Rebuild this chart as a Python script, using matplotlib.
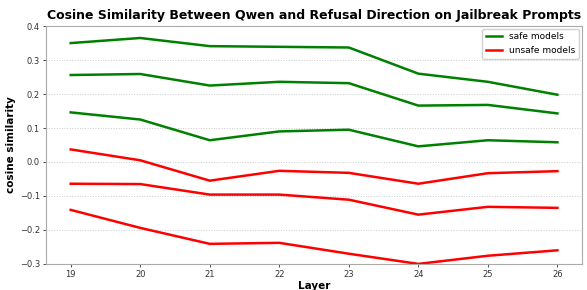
import matplotlib
matplotlib.use("Agg")
import matplotlib.pyplot as plt

layers = [19, 20, 21, 22, 23, 24, 25, 26]
safe_1 = [0.350, 0.365, 0.341, 0.339, 0.337, 0.260, 0.236, 0.198]
safe_2 = [0.256, 0.259, 0.225, 0.236, 0.232, 0.166, 0.168, 0.143]
safe_3 = [0.146, 0.125, 0.064, 0.090, 0.095, 0.046, 0.064, 0.058]
unsafe_1 = [0.037, 0.005, -0.055, -0.026, -0.032, -0.064, -0.033, -0.027]
unsafe_2 = [-0.064, -0.065, -0.096, -0.096, -0.111, -0.155, -0.132, -0.135]
unsafe_3 = [-0.141, -0.194, -0.241, -0.238, -0.270, -0.300, -0.276, -0.260]

safe = [safe_1, safe_2, safe_3]
unsafe = [unsafe_1, unsafe_2, unsafe_3]

fig, ax = plt.subplots(figsize=(5.87, 2.9), dpi=100)
for i, s in enumerate(safe):
    ax.plot(layers, s, color="green", lw=1.8, label="safe models" if i == 0 else None)
for i, s in enumerate(unsafe):
    ax.plot(layers, s, color="red", lw=1.8, label="unsafe models" if i == 0 else None)

ax.set_ylim(-0.3, 0.4)
ax.set_xticks(layers)
ax.set_yticks([-0.3, -0.2, -0.1, 0.0, 0.1, 0.2, 0.3, 0.4])
ax.tick_params(labelsize=6, colors="#333333", length=2.5, width=0.6, pad=2)
ax.yaxis.grid(True, linestyle=":", color="#cccccc", lw=0.7)
ax.set_axisbelow(True)
for sp in ax.spines.values():
    sp.set_color("#aaaaaa")
    sp.set_linewidth(0.8)
ax.set_xlabel("Layer", fontsize=7.5, fontweight="bold", labelpad=1)
ax.set_ylabel("cosine similarity", fontsize=7.5, fontweight="bold", labelpad=3)
ax.set_title("Cosine Similarity Between Qwen and Refusal Direction on Jailbreak Prompts",
             fontsize=9, fontweight="bold", pad=5)
ax.legend(loc="upper right", fontsize=6.5, framealpha=0.9, borderaxespad=0.3,
          handlelength=1.8)
fig.subplots_adjust(left=0.079, right=0.991, top=0.91, bottom=0.09)
fig.savefig("out.png", dpi=100)
